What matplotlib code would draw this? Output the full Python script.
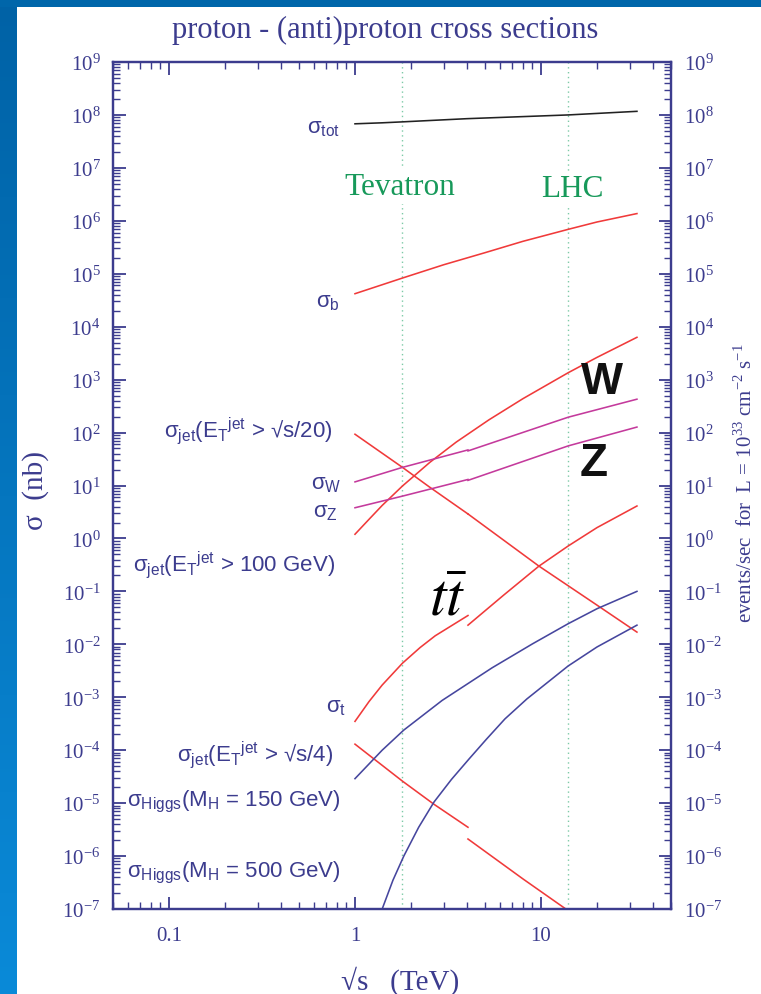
import numpy as np
import matplotlib
matplotlib.use('Agg')
import matplotlib.pyplot as plt
from matplotlib.ticker import LogLocator, FixedLocator, FixedFormatter, NullFormatter
from matplotlib.colors import LinearSegmentedColormap

plt.rcParams['font.family'] = ['Liberation Serif', 'DejaVu Serif']
plt.rcParams['axes.unicode_minus'] = False

NAVY = '#3c3c8e'
RED = '#f03a3a'
MAG = '#c43a9c'
BLUE = '#46469e'
SANS = ['Liberation Sans', 'DejaVu Sans']

# sqrt(s) in TeV, cross sections in nb
tot_s = [1, 1.4, 1.8, 4, 14, 32.8]
tot_sig = [6.8e7, 7.1e7, 7.4e7, 8.5e7, 1.0e8, 1.17e8]

b_s = [1, 1.4, 1.8, 3, 5, 8, 14, 20, 32.8]
b_sig = [4.2e4, 6.2e4, 8.3e4, 1.48e5, 2.5e5, 4.1e5, 6.9e5, 9.5e5, 1.37e6]

jet20_s_a = [1, 1.8, 2.5, 4.05]
jet20_sig_a = [93, 22, 9.5, 2.9]
jet20_s_b = [4.05, 9.75, 20, 32.8]
jet20_sig_b = [2.9, 0.30, 0.055, 0.017]

jet100_s = [1, 1.19, 1.4, 1.8, 2.53, 3.5, 5.25, 8, 14, 20, 32.8]
jet100_sig = [1.2, 2.3, 4.2, 9.8, 27.5, 66, 174, 437, 1350, 2630, 6300]

w_s_a = [1, 1.8, 4.05]
w_sig_a = [11.7, 22, 47]
w_s_b = [4.05, 14, 32.8]
w_sig_b = [45, 195, 427]

z_s_a = [1, 1.8, 4.05]
z_sig_a = [3.8, 6.3, 13]
z_s_b = [4.05, 14, 32.8]
z_sig_b = [12.5, 56, 127]

tt_s_a = [1, 1.19, 1.4, 1.8, 2.24, 2.7, 4.05]
tt_sig_a = [3.5e-4, 8.3e-4, 1.7e-3, 4.4e-3, 8.7e-3, 1.45e-2, 3.5e-2]
tt_s_b = [4.05, 6.3, 9.75, 14, 20, 32.8]
tt_sig_b = [0.023, 0.085, 0.30, 0.72, 1.6, 4.1]

jet4_s_a = [1, 1.8, 2.66, 4.05]
jet4_sig_a = [1.3e-4, 2.6e-5, 9.5e-6, 3.5e-6]
jet4_s_b = [4.05, 8, 13.6]
jet4_sig_b = [2.1e-6, 3.7e-7, 1.0e-7]

h150_s = [1, 1.4, 1.83, 2.94, 5.46, 9, 14, 20, 32.8]
h150_sig = [2.9e-5, 1.0e-4, 2.4e-4, 8.7e-4, 3.6e-3, 1.02e-2, 2.45e-2, 4.7e-2, 0.1]

h500_s = [1.4, 1.6, 1.83, 2.2, 2.66, 3.3, 4.1, 5.08, 6.4, 8.4, 14, 20, 32.8]
h500_sig = [1e-7, 3.5e-7, 1e-6, 3.5e-6, 1.05e-5, 2.8e-5, 6.8e-5, 1.6e-4, 3.9e-4,
            9.3e-4, 3.9e-3, 8.9e-3, 2.3e-2]

x_ticks = [0.1, 1, 10]
x_tick_labels = ['0.1', '1', '10']
tevatron = 1.8
lhc = 14

fig = plt.figure(figsize=(7.61, 9.95), dpi=100)

# slide background: blue strip on the left and along the top
grad = LinearSegmentedColormap.from_list('strip', ['#0062a6', '#0a8ad8'])
bg = fig.add_axes([0, 0, 17 / 761, 1])
bg.imshow(np.linspace(0, 1, 256)[:, None], cmap=grad, aspect='auto')
bg.axis('off')
top = fig.add_axes([0, 1 - 8 / 995, 1, 8 / 995])
top.set_facecolor('#0066aa')
top.set_xticks([])
top.set_yticks([])
for sp in top.spines.values():
    sp.set_visible(False)

ax = fig.add_axes([113 / 761, 1 - 910 / 995, 558 / 761, 847 / 995])
ax.set_xscale('log')
ax.set_yscale('log')
ax.set_xlim(0.05, 50)
ax.set_ylim(1e-7, 1e9)

for xv in (tevatron, lhc):
    ax.axvline(xv, color='#7ccaa6', ls=(0, (1, 2.5)), lw=1.0, zorder=1)

lw = 1.15
ax.plot(tot_s, tot_sig, color='#222222', lw=lw)
ax.plot(b_s, b_sig, color=RED, lw=lw)
ax.plot(jet20_s_a, jet20_sig_a, color=RED, lw=lw)
ax.plot(jet20_s_b, jet20_sig_b, color=RED, lw=lw)
ax.plot(jet100_s, jet100_sig, color=RED, lw=lw)
ax.plot(w_s_a, w_sig_a, color=MAG, lw=lw)
ax.plot(w_s_b, w_sig_b, color=MAG, lw=lw)
ax.plot(z_s_a, z_sig_a, color=MAG, lw=lw)
ax.plot(z_s_b, z_sig_b, color=MAG, lw=lw)
ax.plot(tt_s_a, tt_sig_a, color=RED, lw=lw)
ax.plot(tt_s_b, tt_sig_b, color=RED, lw=lw)
ax.plot(jet4_s_a, jet4_sig_a, color=RED, lw=lw)
ax.plot(jet4_s_b, jet4_sig_b, color=RED, lw=lw)
ax.plot(h150_s, h150_sig, color=BLUE, lw=lw)
ax.plot(h500_s, h500_sig, color=BLUE, lw=lw)

# axes styling
for sp in ax.spines.values():
    sp.set_color(NAVY)
    sp.set_linewidth(1.6)
ax.yaxis.set_major_locator(LogLocator(base=10, numticks=30))
ax.yaxis.set_minor_locator(LogLocator(base=10, subs=np.arange(2, 10), numticks=30))
ax.yaxis.set_minor_formatter(NullFormatter())
ax.xaxis.set_major_locator(FixedLocator(x_ticks))
ax.xaxis.set_major_formatter(FixedFormatter(x_tick_labels))
ax.xaxis.set_minor_locator(LogLocator(base=10, subs=np.arange(2, 10), numticks=30))
ax.xaxis.set_minor_formatter(NullFormatter())
ax.tick_params(which='both', direction='in', colors=NAVY, top=True, right=False,
               labelsize=15)
ax.tick_params(which='major', length=9, width=1.3)
ax.tick_params(which='minor', length=5, width=1.0)
ax.tick_params(axis='y', pad=9)
ax.tick_params(axis='x', pad=12)

ax2 = ax.twinx()
ax2.set_yscale('log')
ax2.set_ylim(1e-7, 1e9)
ax2.yaxis.set_major_locator(LogLocator(base=10, numticks=30))
ax2.yaxis.set_minor_locator(LogLocator(base=10, subs=np.arange(2, 10), numticks=30))
ax2.yaxis.set_minor_formatter(NullFormatter())
ax2.tick_params(which='both', direction='in', colors=NAVY, labelsize=15, pad=9)
ax2.tick_params(which='major', length=9, width=1.3)
ax2.tick_params(which='minor', length=5, width=1.0)
for sp in ax2.spines.values():
    sp.set_color(NAVY)
    sp.set_linewidth(1.6)

# curve labels
jet = r'σ$_{\mathdefault{jet}}$(E$_{\mathdefault{T}}{}^{\mathdefault{jet}}$'
labels = [
    (r'σ$_{\mathdefault{tot}}$', 0.407, 0.917),
    (r'σ$_{\mathdefault{b}}$', 0.407, 0.712),
    (jet + ' > √s/20)', 0.394, 0.558),
    (r'σ$_{\mathdefault{W}}$', 0.410, 0.496),
    (r'σ$_{\mathdefault{Z}}$', 0.403, 0.463),
    (jet + ' > 100 GeV)', 0.398, 0.399),
    (r'σ$_{\mathdefault{t}}$', 0.418, 0.233),
    (jet + ' > √s/4)', 0.394, 0.175),
    (r'σ$_{\mathdefault{Higgs}}$(M$_{\mathdefault{H}}$ = 150 GeV)', 0.407, 0.122),
    (r'σ$_{\mathdefault{Higgs}}$(M$_{\mathdefault{H}}$ = 500 GeV)', 0.407, 0.039),
]
for txt, xf, yf in labels:
    ax.text(xf, yf, txt, transform=ax.transAxes, ha='right', va='baseline',
            fontsize=16, color=NAVY, family=SANS)

ax.text(0.514, 0.844, 'Tevatron', transform=ax.transAxes, ha='center', va='baseline',
        fontsize=22.5, color='#17995a',
        bbox=dict(facecolor='white', edgecolor='none', pad=2))
ax.text(0.824, 0.842, 'LHC', transform=ax.transAxes, ha='center', va='baseline',
        fontsize=22.5, color='#17995a',
        bbox=dict(facecolor='white', edgecolor='none', pad=2))

ax.text(0.876, 0.623, 'W', transform=ax.transAxes, ha='center', va='center',
        fontsize=32, fontweight='bold', color='#111111', family=SANS)
ax.text(0.862, 0.527, 'Z', transform=ax.transAxes, ha='center', va='center',
        fontsize=33, fontweight='bold', color='#111111', family=SANS)
ax.text(0.6, 0.348, r'$t\bar{t}$', transform=ax.transAxes, ha='center', va='baseline',
        fontsize=43, color='black', math_fontfamily='stix')

fig.text(385 / 761, 1 - 30 / 995, 'proton - (anti)proton cross sections',
         ha='center', va='center', fontsize=22, color=NAVY)
fig.text(400 / 761, 1 - 981 / 995, '√s   (TeV)', ha='center', va='center',
         fontsize=21, color=NAVY)
fig.text(36 / 761, 1 - 490 / 995, 'σ  (nb)', ha='center', va='center',
         rotation=90, fontsize=21, color=NAVY)
fig.text(745 / 761, 1 - 483 / 995,
         r'events/sec  for  L = 10$^{\mathdefault{33}}$ cm$^{\mathdefault{-2}}$ s$^{\mathdefault{-1}}$',
         ha='center', va='center', rotation=90, fontsize=15, color=NAVY)

fig.savefig('out.png', dpi=100)
